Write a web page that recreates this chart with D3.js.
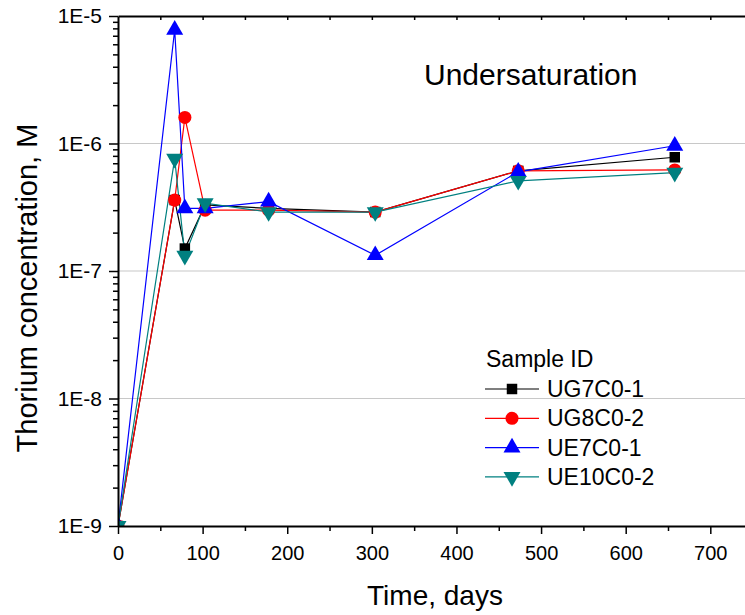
<!DOCTYPE html>
<html>
<head>
<meta charset="utf-8">
<script src="https://cdn.jsdelivr.net/npm/d3@7"></script>
<style>
  body { margin: 0; background: #fff; }
  svg { display: block; font-family: "Liberation Sans", Arial, sans-serif; }
</style>
</head>
<body>
<svg id="chart" width="745" height="615"></svg>
<script>
// sampling days and thorium concentration (M) per sample
var days = [0, 67, 79, 103, 178, 304, 473, 658];
var seriesNames = ["UG7C0-1", "UG8C0-2", "UE7C0-1", "UE10C0-2"];
var ug7c01 = [1e-9, 3.6e-7, 1.5e-7, 3.3e-7, 3.1e-7, 2.9e-7, 6.1e-7, 7.8e-7];
var ug8c02 = [1e-9, 3.6e-7, 1.6e-6, 3.0e-7, 3.0e-7, 2.9e-7, 6.1e-7, 6.2e-7];
var ue7c01 = [1e-9, 7.8e-6, 3.1e-7, 3.1e-7, 3.5e-7, 1.33e-7, 6.0e-7, 9.6e-7];
var ue10c02 = [1e-9, 7.6e-7, 1.32e-7, 3.4e-7, 2.9e-7, 2.9e-7, 5.1e-7, 5.9e-7];
var xTicks = [0, 100, 200, 300, 400, 500, 600, 700];
var yTicks = [1e-9, 1e-8, 1e-7, 1e-6, 1e-5];
var yTickLabels = ["1E-9", "1E-8", "1E-7", "1E-6", "1E-5"];

var colors = ["#000000", "#ff0000", "#0000ff", "#008080"];
var shapes = [d3.symbolSquare, d3.symbolCircle, d3.symbolTriangle, d3.symbolTriangle];
var allValues = [ug7c01, ug8c02, ue7c01, ue10c02];

var svg = d3.select("#chart");
var pLeft = 118, pRight = 745, pTop = 16, pBottom = 526;

var x = d3.scaleLinear().domain([0, 741]).range([pLeft, pRight]);
var y = d3.scaleLog().domain([1e-9, 1e-5]).range([pBottom, pTop]);

svg.append("clipPath").attr("id", "plotclip")
   .append("rect")
   .attr("x", pLeft).attr("y", pTop)
   .attr("width", pRight - pLeft).attr("height", pBottom - pTop);

// grid lines
svg.append("g")
   .selectAll("line")
   .data([1e-8, 1e-7, 1e-6])
   .enter().append("line")
   .attr("x1", pLeft).attr("x2", pRight)
   .attr("y1", function(d) { return y(d); })
   .attr("y2", function(d) { return y(d); })
   .attr("stroke", "#c8c8c8").attr("stroke-width", 1.2);

// minor ticks for the log axis
var minorY = [];
for (var e = -9; e < -5; e++) {
  for (var m = 2; m <= 9; m++) minorY.push(m * Math.pow(10, e));
}

// lines and markers
var line = d3.line()
   .x(function(d) { return x(d[0]); })
   .y(function(d) { return y(d[1]); });

var plot = svg.append("g").attr("clip-path", "url(#plotclip)");

allValues.forEach(function(vals, i) {
  var pts = days.map(function(d, j) { return [d, vals[j]]; });
  plot.append("path")
     .datum(pts)
     .attr("d", line)
     .attr("fill", "none")
     .attr("stroke", colors[i])
     .attr("stroke-width", 1.2);
});

function marker(sel, i) {
  var size = i === 1 ? 135 : (i === 0 ? 110 : 125);
  sel.attr("d", d3.symbol().type(shapes[i]).size(size))
     .attr("fill", colors[i]);
}

allValues.forEach(function(vals, i) {
  plot.append("g").selectAll("path")
     .data(days.map(function(d, j) { return [d, vals[j]]; }))
     .enter().append("path")
     .call(marker, i)
     .attr("transform", function(d) {
       return "translate(" + x(d[0]) + "," + y(d[1]) + ")" + (i === 3 ? " rotate(180)" : "");
     });
});

// bottom axis
var xAxis = svg.append("g")
   .attr("transform", "translate(0," + pBottom + ")")
   .call(d3.axisBottom(x).tickValues(xTicks).tickSize(8).tickSizeOuter(0).tickPadding(12).tickFormat(d3.format("d")));
xAxis.selectAll("text").attr("font-size", "20px").attr("fill", "#000");
xAxis.select(".domain").attr("stroke-width", 2);
xAxis.selectAll(".tick line").attr("stroke-width", 1.5);
svg.append("g")
   .attr("transform", "translate(0," + pBottom + ")")
   .call(d3.axisBottom(x).tickValues([50, 150, 250, 350, 450, 550, 650]).tickSize(5).tickFormat(""))
   .call(function(g) { g.select(".domain").remove(); g.selectAll("line").attr("stroke-width", 1.5); });

// top axis
svg.append("g")
   .attr("transform", "translate(0," + pTop + ")")
   .call(d3.axisTop(x).tickValues(d3.range(50, 750, 50)).tickSize(-4).tickSizeOuter(0).tickFormat(""))
   .call(function(g) { g.select(".domain").attr("stroke-width", 2); g.selectAll("line").attr("stroke-width", 1.5); });

// left axis
var yAxis = svg.append("g")
   .attr("transform", "translate(" + pLeft + ",0)")
   .call(d3.axisLeft(y).tickValues(yTicks).tickSize(9).tickSizeOuter(0).tickPadding(7)
     .tickFormat(function(d, i) { return yTickLabels[i]; }));
yAxis.selectAll("text").attr("font-size", "21px").attr("fill", "#000");
yAxis.select(".domain").attr("stroke-width", 2);
yAxis.selectAll(".tick line").attr("stroke-width", 1.5);
svg.append("g")
   .attr("transform", "translate(" + pLeft + ",0)")
   .call(d3.axisLeft(y).tickValues(minorY).tickSize(5).tickFormat(""))
   .call(function(g) { g.select(".domain").remove(); g.selectAll("line").attr("stroke-width", 1.5); });

// title
svg.append("text")
   .attr("x", 424).attr("y", 85)
   .attr("font-size", "30px")
   .text("Undersaturation");

// axis titles
svg.append("text")
   .attr("x", 435).attr("y", 605)
   .attr("text-anchor", "middle")
   .attr("font-size", "28px")
   .text("Time, days");

svg.append("text")
   .attr("transform", "translate(37,288) rotate(-90)")
   .attr("text-anchor", "middle")
   .attr("font-size", "29px")
   .text("Thorium concentration, M");

// legend
var legend = svg.append("g").attr("transform", "translate(485,0)");
legend.append("text")
   .attr("x", 1).attr("y", 367)
   .attr("font-size", "23px")
   .text("Sample ID");
seriesNames.forEach(function(name, i) {
  var ly = 389 + i * 29.3;
  legend.append("line")
     .attr("x1", 0).attr("x2", 54)
     .attr("y1", ly).attr("y2", ly)
     .attr("stroke", colors[i]).attr("stroke-width", 1.2);
  legend.append("path")
     .call(marker, i)
     .attr("transform", "translate(27," + ly + ")" + (i === 3 ? " rotate(180)" : ""));
  legend.append("text")
     .attr("x", 62).attr("y", ly + 8)
     .attr("font-size", "23px")
     .text(name);
});
</script>
</body>
</html>
